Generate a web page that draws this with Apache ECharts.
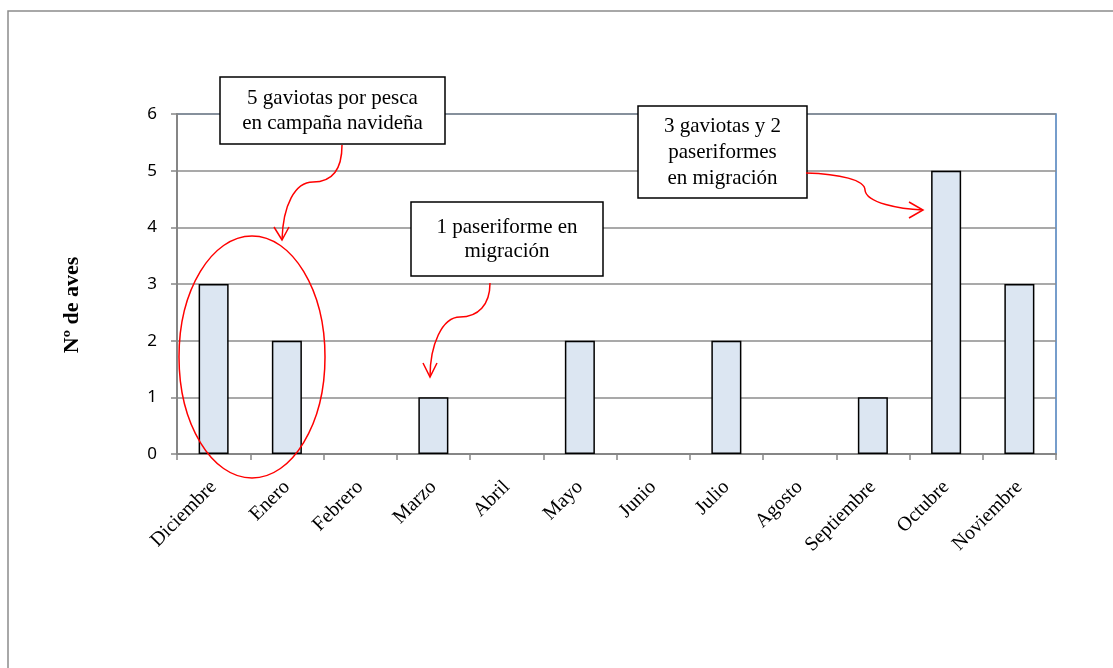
<!DOCTYPE html>
<html>
<head>
<meta charset="utf-8">
<script src="https://cdn.jsdelivr.net/npm/echarts@6/dist/echarts.min.js"></script>
<style>
  html, body { margin: 0; padding: 0; background: #fff; }
  #main { width: 1113px; height: 668px; }
</style>
</head>
<body>
<div id="main"></div>
<script>
// data
const months = ['Diciembre', 'Enero', 'Febrero', 'Marzo', 'Abril', 'Mayo', 'Junio',
  'Julio', 'Agosto', 'Septiembre', 'Octubre', 'Noviembre']
const birds = [3, 2, 0, 1, 0, 2, 0, 2, 0, 1, 5, 3]
const yMax = 6
const notes = [
  '5 gaviotas por pesca\nen campaña navideña',
  '1 paseriforme en\nmigración',
  '3 gaviotas y 2\npaseriformes\nen migración'
]

const serif = '"Liberation Serif", "Times New Roman", serif'
const red = '#ff0000'

function box (x, y, w, h, text, lh) {
  return [{
    type: 'rect', z: 20,
    shape: { x: x, y: y, width: w, height: h },
    style: { fill: '#fff', stroke: '#000', lineWidth: 1.5 }
  }, {
    type: 'text', z: 21,
    x: x + w / 2, y: y + h / 2,
    style: {
      text: text, font: '21px ' + serif, fill: '#000',
      textAlign: 'center', textVerticalAlign: 'middle', lineHeight: lh
    }
  }]
}

function curve (p) {
  return {
    type: 'bezierCurve', z: 22,
    shape: { x1: p[0], y1: p[1], cpx1: p[2], cpy1: p[3], cpx2: p[4], cpy2: p[5], x2: p[6], y2: p[7] },
    style: { stroke: red, lineWidth: 1.5, fill: null }
  }
}

function head (pts) {
  return {
    type: 'polyline', z: 22,
    shape: { points: pts },
    style: { stroke: red, lineWidth: 1.5, fill: null }
  }
}

// empty months get no outline
const barData = birds.map(v => v === 0 ? { value: v, itemStyle: { borderWidth: 0 } } : v)

let chart = echarts.init(document.getElementById('main'))
chart.setOption({
  animation: false,
  grid: {
    left: 177, right: 57, top: 114, bottom: 214,
    show: true, borderColor: '#4a7ebb', borderWidth: 1.5
  },
  xAxis: {
    type: 'category',
    data: months,
    axisLine: { lineStyle: { color: '#868686', width: 2 } },
    axisTick: { show: true, length: 6, lineStyle: { color: '#868686', width: 1.5 } },
    axisLabel: {
      rotate: 45, margin: 30, interval: 0,
      fontFamily: serif, fontSize: 20, color: '#000'
    }
  },
  yAxis: {
    type: 'value', min: 0, max: yMax, interval: 1,
    axisLine: { show: true, lineStyle: { color: '#868686', width: 2 } },
    axisTick: { show: true, length: 6, lineStyle: { color: '#868686', width: 1.5 } },
    axisLabel: { margin: 20, fontFamily: '"Noto Sans", sans-serif', fontSize: 17, color: '#000' },
    splitLine: { lineStyle: { color: '#8c8c8c', width: 1.5 } }
  },
  series: [{
    type: 'bar',
    data: barData,
    barWidth: '41%',
    itemStyle: { color: '#dce6f2', borderColor: '#000', borderWidth: 1.5 }
  }],
  graphic: [
    {
      type: 'rect', z: -1, silent: true,
      shape: { x: 8, y: 11, width: 1200, height: 700 },
      style: { fill: null, stroke: '#8c8c8c', lineWidth: 1.5 }
    },
    {
      type: 'text', z: 10,
      x: 72, y: 305, rotation: Math.PI / 2,
      style: {
        text: 'Nº de aves', font: 'bold 22px ' + serif, fill: '#000',
        textAlign: 'center', textVerticalAlign: 'middle'
      }
    },
    {
      type: 'ellipse', z: 22,
      shape: { cx: 252, cy: 357, rx: 73, ry: 121 },
      style: { fill: null, stroke: red, lineWidth: 1.5 }
    },
    ...box(220, 77, 225, 67, notes[0], 25),
    ...box(411, 202, 192, 74, notes[1], 24),
    ...box(638, 106, 169, 92, notes[2], 26),
    curve([342, 145, 342, 170, 332, 182, 313, 182]),
    curve([313, 182, 295, 182, 283, 205, 282, 240]),
    head([[274, 227], [282, 240], [289, 227]]),
    curve([490, 283, 490, 305, 478, 317, 460, 317]),
    curve([460, 317, 442, 317, 430, 345, 430, 377]),
    head([[423, 363], [430, 377], [437, 363]]),
    curve([806, 173, 840, 174, 865, 180, 865, 190]),
    curve([865, 190, 866, 203, 900, 209, 923, 210]),
    head([[909, 202], [923, 210], [909, 218]])
  ]
})
</script>
</body>
</html>
